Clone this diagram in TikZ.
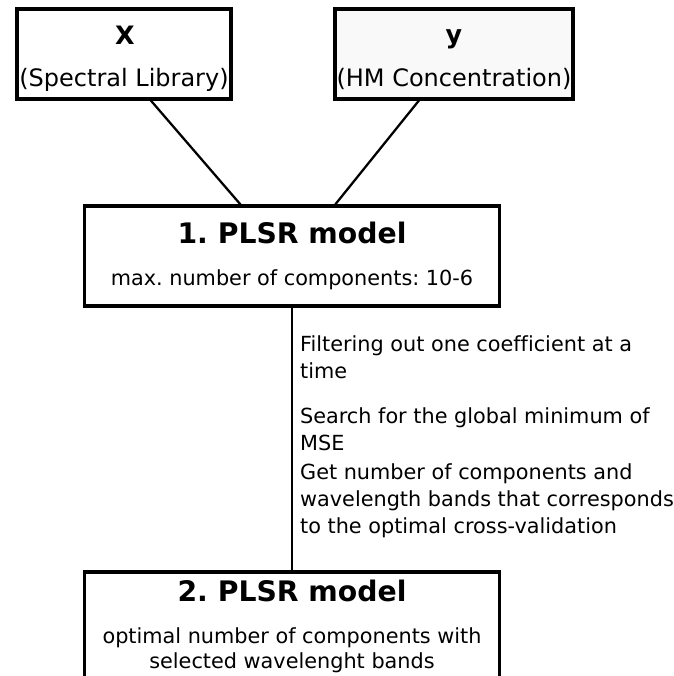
\documentclass[tikz,border=0pt]{standalone}
\usepackage{fontspec}
\setmainfont[Ligatures=NoCommon]{DejaVu Sans}
\definecolor{paleg}{RGB}{249,249,249}

\begin{document}
\frenchspacing
\begin{tikzpicture}[x=0.75pt,y=-0.75pt,line width=1.7pt,
                box/.style = {draw, line width=2.3pt, inner sep=0pt},
                head/.style = {font=\bfseries\fontsize{19}{22}\selectfont, anchor=base, inner sep=0pt},
                sub/.style = {font=\fontsize{18}{22}\selectfont, anchor=base, inner sep=0pt},
                title/.style = {font=\bfseries\fontsize{21.2}{25}\selectfont, anchor=base, inner sep=0pt},
                body/.style = {font=\fontsize{15.6}{20}\selectfont, anchor=base west, align=left, inner sep=0pt}]
                \clip (0,0) rectangle (674,676);
                % input boxes
                \node[box, minimum width=160.5pt, minimum height=67.5pt] (X) at (124,54) {};
                \node[box, fill=paleg, minimum width=178.5pt, minimum height=67.5pt] (y) at (454,54) {};
                \node[head] (Xt) at (125,44) {X};
                \node[sub] (Xs) at (124,86) {(Spectral Library)};
                \node[head] (yt) at (454,43) {y};
                \node[sub] (ys) at (454,86) {(HM Concentration)};
                % models
                \node[box, minimum width=311.25pt, minimum height=75pt] (m1) at (292,256) {};
                \node[box, minimum width=311.25pt, minimum height=105pt] (m2) at (292,642) {};
                \node[title] (m1t) at (292,243) {1. PLSR model};
                \node[body, anchor=base] (m1s) at (292,285) {max. number of components: 10-6};
                \node[title] (m2t) at (292,601) {2. PLSR model};
                \node[body, anchor=base, align=center, font=\fontsize{15.6}{18.75}\selectfont] (m2s) at (292,668)
                    {optimal number of components with\\selected wavelenght bands};
                % steps between the models (base = last line)
                \node[body] (n1) at (299,378) {Filtering out one coefficient at a\\time};
                \node[body] (n2) at (299,450) {Search for the global minimum of\\MSE};
                \node[body] (n3) at (299,533) {Get number of components and\\wavelength bands that corresponds\\to the optimal cross-validation};
                \path (X.-60) edge (m1.135)
                      (y.-127) edge (m1.50)
                      (m1) edge (m2);
            \end{tikzpicture}
\end{document}
